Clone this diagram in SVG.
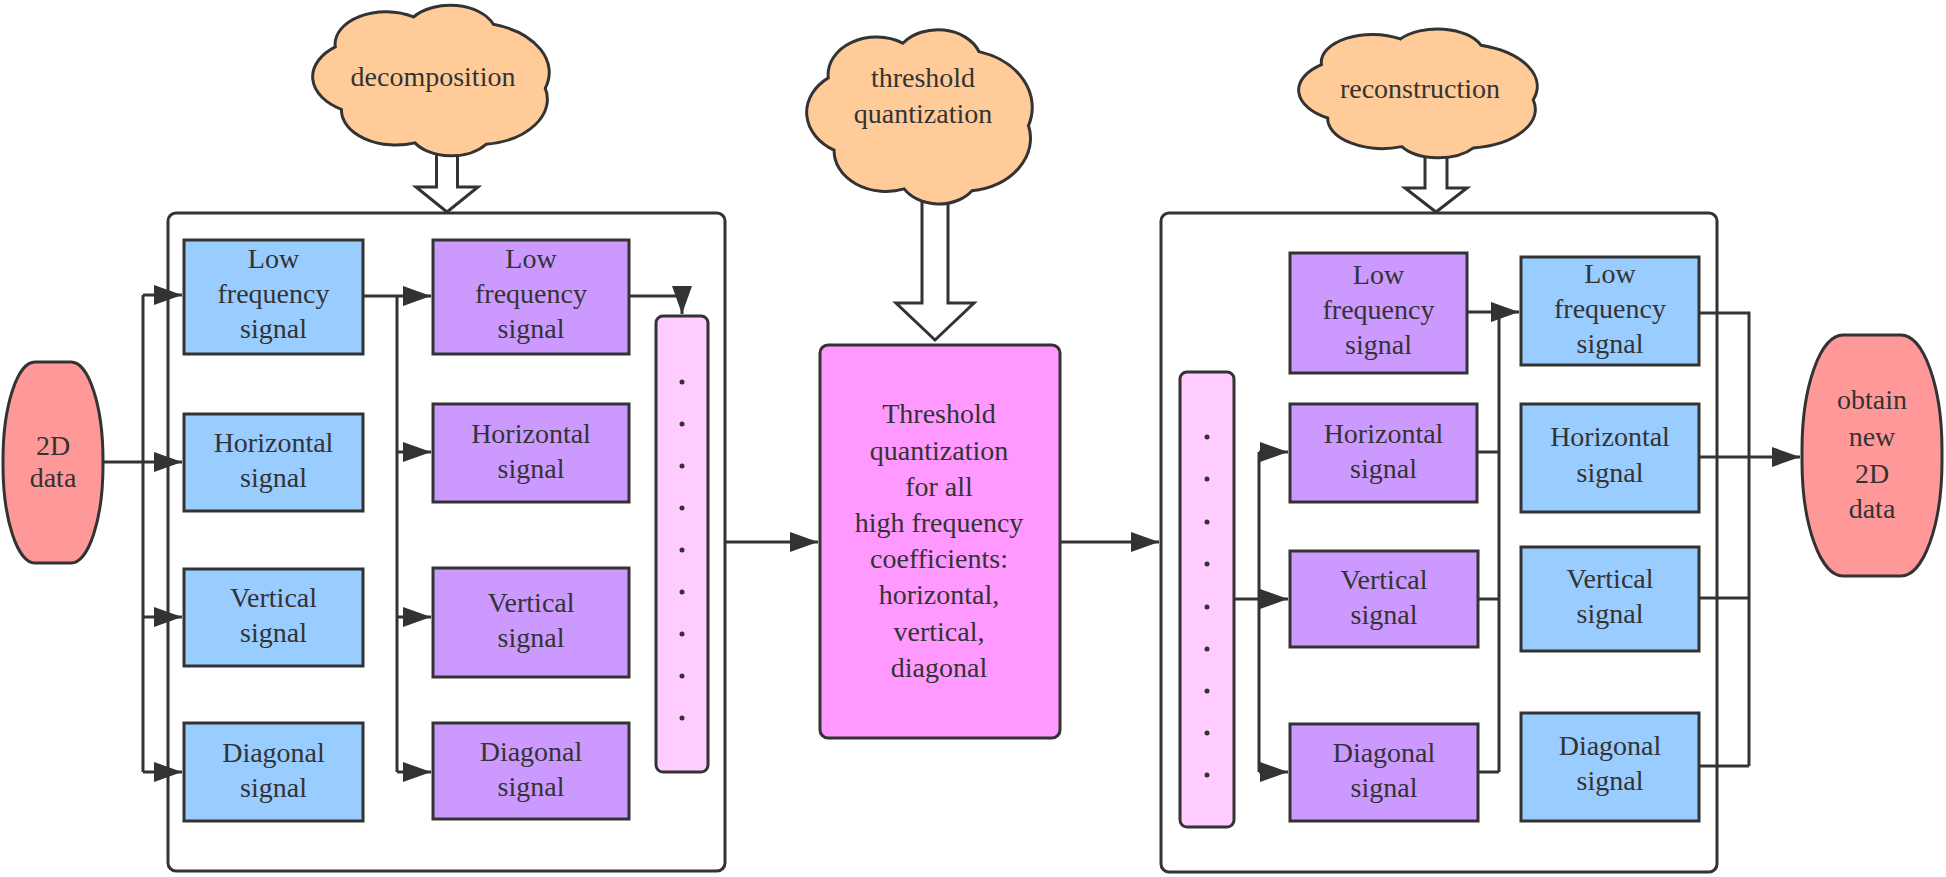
<svg xmlns="http://www.w3.org/2000/svg" width="1946" height="877" viewBox="0 0 1946 877">
<style>
text{font-family:"Liberation Serif","Times New Roman",serif;font-size:28px;fill:#333;text-anchor:middle}
.box{stroke:#333;stroke-width:3}
.blue{fill:#99CCFF}
.purple{fill:#CC99FF}
.bar{fill:#FFCCFF;stroke:#333;stroke-width:3}
.cont{fill:none;stroke:#333;stroke-width:3}
.cloud{fill:#FFCC99;stroke:#333;stroke-width:3}
.hollow{fill:#fff;stroke:#333;stroke-width:3;stroke-linejoin:miter}
.ln{fill:none;stroke:#333;stroke-width:3}
.arr{marker-end:url(#ah)}
.dot{fill:#333}
</style>
<defs>
<marker id="ah" viewBox="0 0 28 20" markerWidth="28" markerHeight="20" markerUnits="userSpaceOnUse" refX="28" refY="10" orient="auto">
<path d="M0,0 L28,10 L0,20 Z" fill="#333"/>
</marker>
<path id="cloudshape" d="M9.4 28.9 A21.4 21.4 0 0 1 42.4 9.2 A19.5 19.5 0 0 1 76.1 14 A33 33 0 0 1 98 56 A30 30 0 0 1 73 93 A18 18 0 0 1 43 92 A23 23 0 0 1 12 70 A25 25 0 0 1 9.4 28.9 Z" vector-effect="non-scaling-stroke"/>
</defs>
<rect width="1946" height="877" fill="#fff"/>

<g id="container-decomposition"><rect class="cont" x="168" y="213" width="557" height="658" rx="8"/></g>
<g id="container-reconstruction"><rect class="cont" x="1161" y="213" width="556" height="659" rx="8"/></g>

<g id="cloud-decomposition">
<polygon class="hollow" points="436.5,150 457.5,150 457.5,187 478,187 447,212 416,187 436.5,187"/>
<use href="#cloudshape" class="cloud" transform="translate(313,3) scale(2.37,1.52)"/>
<text x="433" y="86">decomposition</text>
</g>
<g id="cloud-threshold">
<polygon class="hollow" points="922,198 948,198 948,303 974,303 935,340 896,303 922,303"/>
<use href="#cloudshape" class="cloud" transform="translate(807,27) scale(2.26,1.76)"/>
<text x="923" y="87">threshold</text>
<text x="923" y="123">quantization</text>
</g>
<g id="cloud-reconstruction">
<polygon class="hollow" points="1425,152 1447,152 1447,188 1467,188 1436,212 1405,188 1425,188"/>
<use href="#cloudshape" class="cloud" transform="translate(1299,27) scale(2.39,1.30)"/>
<text x="1420" y="98">reconstruction</text>
</g>

<g id="connectors">
<path class="ln" d="M103 462 H143 M143 295 V772"/>
<path class="ln arr" d="M143 295 H182"/>
<path class="ln arr" d="M143 462 H182"/>
<path class="ln arr" d="M143 617 H182"/>
<path class="ln arr" d="M143 772 H182"/>
<path class="ln" d="M363 296 H397 M397 296 V772"/>
<path class="ln arr" d="M397 296 H431"/>
<path class="ln arr" d="M397 452 H431"/>
<path class="ln arr" d="M397 617 H431"/>
<path class="ln arr" d="M397 772 H431"/>
<path class="ln arr" d="M629 296 H682 V314"/>
<path class="ln arr" d="M725 542 H818"/>
<path class="ln arr" d="M1060 542 H1159"/>
<path class="ln" d="M1259 452 V772"/>
<path class="ln arr" d="M1234 599 H1288"/>
<path class="ln arr" d="M1259 452 H1288"/>
<path class="ln arr" d="M1259 772 H1288"/>
<path class="ln arr" d="M1467 312 H1519"/>
<path class="ln" d="M1499 312 V772 M1477 452 H1499 M1478 599 H1499 M1478 772 H1499"/>
<path class="ln" d="M1699 313 H1749 V766 M1699 598 H1749 M1699 766 H1749"/>
<path class="ln arr" d="M1699 457 H1800"/>
</g>

<g id="input-2d-data">
<rect x="3" y="362" width="100" height="201" rx="32" ry="98" fill="#FF9999" stroke="#333" stroke-width="3"/>
<text x="53" y="455">2D</text>
<text x="53" y="487">data</text>
</g>

<g id="dec-low">
<rect class="box blue" x="184" y="240" width="179" height="114"/>
<text x="273.5" y="268">Low</text><text x="273.5" y="303">frequency</text><text x="273.5" y="338">signal</text>
</g>
<g id="dec-horizontal">
<rect class="box blue" x="184" y="414" width="179" height="97"/>
<text x="273.5" y="452">Horizontal</text><text x="273.5" y="487">signal</text>
</g>
<g id="dec-vertical">
<rect class="box blue" x="184" y="569" width="179" height="97"/>
<text x="273.5" y="607">Vertical</text><text x="273.5" y="642">signal</text>
</g>
<g id="dec-diagonal">
<rect class="box blue" x="184" y="723" width="179" height="98"/>
<text x="273.5" y="762">Diagonal</text><text x="273.5" y="797">signal</text>
</g>

<g id="dec2-low">
<rect class="box purple" x="433" y="240" width="196" height="114"/>
<text x="531" y="268">Low</text><text x="531" y="303">frequency</text><text x="531" y="338">signal</text>
</g>
<g id="dec2-horizontal">
<rect class="box purple" x="433" y="404" width="196" height="98"/>
<text x="531" y="443">Horizontal</text><text x="531" y="478">signal</text>
</g>
<g id="dec2-vertical">
<rect class="box purple" x="433" y="568" width="196" height="109"/>
<text x="531" y="612">Vertical</text><text x="531" y="647">signal</text>
</g>
<g id="dec2-diagonal">
<rect class="box purple" x="433" y="723" width="196" height="96"/>
<text x="531" y="761">Diagonal</text><text x="531" y="796">signal</text>
</g>

<g id="dec-dots-bar">
<rect class="bar" x="656" y="316" width="52" height="456" rx="7"/>
<circle class="dot" cx="682" cy="382" r="2.5"/><circle class="dot" cx="682" cy="424" r="2.5"/><circle class="dot" cx="682" cy="466" r="2.5"/>
<circle class="dot" cx="682" cy="508" r="2.5"/><circle class="dot" cx="682" cy="550" r="2.5"/><circle class="dot" cx="682" cy="592" r="2.5"/>
<circle class="dot" cx="682" cy="634" r="2.5"/><circle class="dot" cx="682" cy="676" r="2.5"/><circle class="dot" cx="682" cy="718" r="2.5"/>
</g>

<g id="threshold-box">
<rect x="820" y="345" width="240" height="393" rx="8" fill="#FF99FF" stroke="#333" stroke-width="3"/>
<text x="939" y="423">Threshold</text>
<text x="939" y="460">quantization</text>
<text x="939" y="496">for all</text>
<text x="939" y="532">high frequency</text>
<text x="939" y="568">coefficients:</text>
<text x="939" y="604">horizontal,</text>
<text x="939" y="641">vertical,</text>
<text x="939" y="677">diagonal</text>
</g>

<g id="rec-dots-bar">
<rect class="bar" x="1180" y="372" width="54" height="455" rx="7"/>
<circle class="dot" cx="1207" cy="437" r="2.5"/><circle class="dot" cx="1207" cy="479" r="2.5"/><circle class="dot" cx="1207" cy="522" r="2.5"/>
<circle class="dot" cx="1207" cy="564" r="2.5"/><circle class="dot" cx="1207" cy="607" r="2.5"/><circle class="dot" cx="1207" cy="649" r="2.5"/>
<circle class="dot" cx="1207" cy="691" r="2.5"/><circle class="dot" cx="1207" cy="733" r="2.5"/><circle class="dot" cx="1207" cy="775" r="2.5"/>
</g>

<g id="rec-low">
<rect class="box purple" x="1290" y="253" width="177" height="120"/>
<text x="1378.5" y="284">Low</text><text x="1378.5" y="319">frequency</text><text x="1378.5" y="354">signal</text>
</g>
<g id="rec-horizontal">
<rect class="box purple" x="1290" y="404" width="187" height="98"/>
<text x="1383.5" y="443">Horizontal</text><text x="1383.5" y="478">signal</text>
</g>
<g id="rec-vertical">
<rect class="box purple" x="1290" y="551" width="188" height="96"/>
<text x="1384" y="589">Vertical</text><text x="1384" y="624">signal</text>
</g>
<g id="rec-diagonal">
<rect class="box purple" x="1290" y="724" width="188" height="97"/>
<text x="1384" y="762">Diagonal</text><text x="1384" y="797">signal</text>
</g>

<g id="out-low">
<rect class="box blue" x="1521" y="257" width="178" height="108"/>
<text x="1610" y="283">Low</text><text x="1610" y="318">frequency</text><text x="1610" y="353">signal</text>
</g>
<g id="out-horizontal">
<rect class="box blue" x="1521" y="404" width="178" height="108"/>
<text x="1610" y="446">Horizontal</text><text x="1610" y="482">signal</text>
</g>
<g id="out-vertical">
<rect class="box blue" x="1521" y="547" width="178" height="104"/>
<text x="1610" y="588">Vertical</text><text x="1610" y="623">signal</text>
</g>
<g id="out-diagonal">
<rect class="box blue" x="1521" y="713" width="178" height="108"/>
<text x="1610" y="755">Diagonal</text><text x="1610" y="790">signal</text>
</g>

<g id="output-new-2d-data">
<rect x="1802" y="335" width="140" height="241" rx="41" ry="115" fill="#FF9999" stroke="#333" stroke-width="3"/>
<text x="1872" y="409">obtain</text>
<text x="1872" y="446">new</text>
<text x="1872" y="483">2D</text>
<text x="1872" y="518">data</text>
</g>
</svg>
